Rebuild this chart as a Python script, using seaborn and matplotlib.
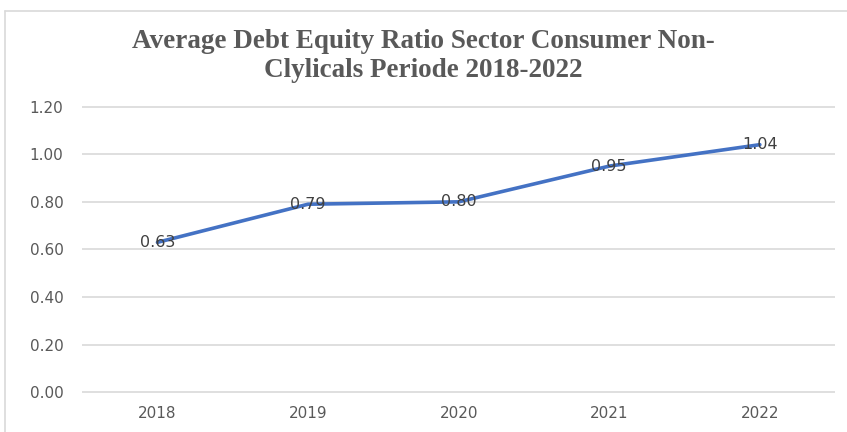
import pandas as pd
import matplotlib.pyplot as plt
import seaborn as sns
from matplotlib.lines import Line2D

# data
years = ['2018', '2019', '2020', '2021', '2022']
der_values = [0.63, 0.79, 0.80, 0.95, 1.04]
y_ticks = [0.0, 0.2, 0.4, 0.6, 0.8, 1.0, 1.2]

df = pd.DataFrame({'Tahun': years, 'DER': der_values})

sns.set_style('white')
plt.rcParams['font.family'] = ['DejaVu Sans']

fig = plt.figure(figsize=(8.47, 4.32), dpi=100)
ax = fig.add_axes([0.097, 0.090, 0.889, 0.665])

sns.lineplot(data=df, x='Tahun', y='DER', color='#4472C4', linewidth=2.6, ax=ax)

# data labels centred on the points
for i, v in enumerate(der_values):
    ax.text(i, v, f'{v:.2f}', ha='center', va='center', fontsize=11.5, color='#404040')

ax.set_xlim(-0.5, len(years) - 0.5)
ax.set_ylim(-0.003, 1.203)
ax.set_yticks(y_ticks)
ax.set_yticklabels([f'{t:.2f}' for t in y_ticks])
ax.grid(True, axis='y', color='#D9D9D9', linewidth=1.2)
ax.set_axisbelow(True)
for s in ax.spines.values():
    s.set_visible(False)
ax.tick_params(axis='both', length=0, labelsize=11, labelcolor='#595959')
ax.tick_params(axis='x', pad=9)
ax.tick_params(axis='y', pad=13.5)
ax.set_xlabel('')
ax.set_ylabel('')

fig.text(0.5, 0.870, 'Average Debt Equity Ratio Sector Consumer Non-\nClylicals Periode 2018-2022',
         ha='center', va='center', fontsize=19.5, fontweight='bold', color='#595959',
         family=['Liberation Serif'], linespacing=1.2)

# chart area border (top and left visible)
fig.add_artist(Line2D([5 / 847, 5 / 847], [0, 1 - 11 / 432], transform=fig.transFigure, color='#D9D9D9', linewidth=1.2))
fig.add_artist(Line2D([5 / 847, 1], [1 - 11 / 432, 1 - 11 / 432], transform=fig.transFigure, color='#D9D9D9', linewidth=1.2))

fig.savefig('out.png', dpi=100)
